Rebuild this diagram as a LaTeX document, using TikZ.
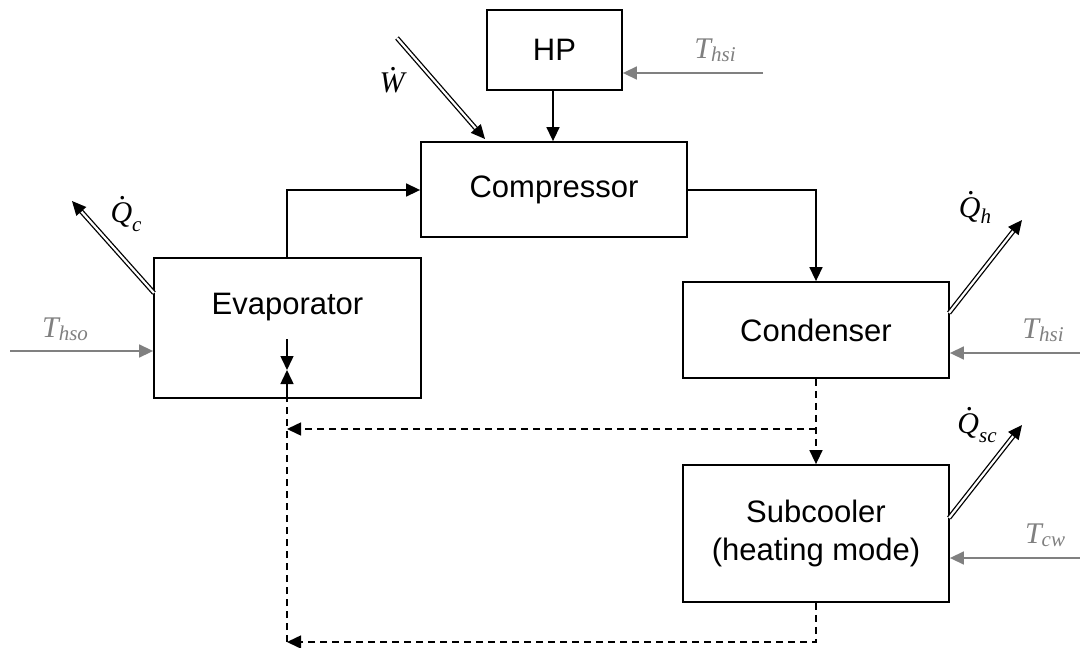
\documentclass[tikz,border=0pt]{standalone}
\usepackage{fontspec}
\setmainfont{Liberation Sans}
\newfontfamily\tms{Liberation Serif}
\usetikzlibrary{arrows.meta,calc}
\definecolor{tgray}{RGB}{128,128,128}
\newcommand\dt[2][0.76em]{\leavevmode\setbox0=\hbox{#2}\rlap{\hbox to \wd0{\hss\kern0.12em\raisebox{#1}{.}\hss}}\box0}
\newcommand\lbl[3][0.12em]{{\tms\itshape\fontsize{30}{30}\selectfont #2\raisebox{-#1}{\fontsize{21}{21}\selectfont #3}}}
\tikzset{
  blk/.style={draw, line width=1.8pt, rectangle, inner sep=0pt, font=\fontsize{31}{38}\selectfont, align=center},
  btxt/.style={inner sep=0pt, font=\fontsize{31}{38}\selectfont, align=center},
  flow/.style={line width=1.5pt, -{Triangle[length=14pt,width=13pt]}},
  dflow/.style={line width=1.5pt, dash pattern=on 7pt off 5pt, -{Triangle[length=14pt,width=13pt]}},
  dline/.style={line width=1.5pt, dash pattern=on 7pt off 5pt},
  tflow/.style={line width=1.5pt, tgray, -{Triangle[length=14pt,width=13pt]}},
  dbl/.style={double, double distance=2.2pt, line width=1.3pt},
  dtip/.style={line width=1.3pt, -{Triangle[length=14pt,width=13pt]}},
  lab/.style={anchor=base, inner sep=0pt},
  tlab/.style={anchor=base, inner sep=0pt, text=tgray},
}
\begin{document}
\begin{tikzpicture}[x=1pt,y=-1pt]
\useasboundingbox (0,0) rectangle (1080,648);
% boxes
\node[blk, minimum width=135pt, minimum height=80pt] (hp) at (554.5,50) {HP};
\node[blk, minimum width=266pt, minimum height=95pt] (comp) at (554,189.5) {Compressor};
\node[blk, minimum width=267pt, minimum height=140pt] (evap) at (287.5,328) {};
\node[btxt] (evt) at (287.5,307) {Evaporator};
\node[blk, minimum width=266pt, minimum height=96pt] (cond) at (816,330) {Condenser};
\node[blk, minimum width=266pt, minimum height=137pt] (sub) at (816,533.5) {Subcooler\\(heating mode)};
% coordinates
\coordinate (hpin) at (763,73);
\coordinate (hsoin) at (10,351);
\coordinate (hsiin) at (1080,353);
\coordinate (cwin) at (1080,558);
\coordinate (ws) at (397,38);
\coordinate (we) at (485,139);
\coordinate (qcs) at (154,293);
\coordinate (qce) at (72,201);
\coordinate (qhs) at (949,313);
\coordinate (qhe) at (1022,220);
\coordinate (qscs) at (949,518);
\coordinate (qsce) at (1022,425);
\coordinate (split) at (816,429);
\coordinate (mid) at (287,429);
\coordinate (bot) at (287,642);
\coordinate (botr) at (816,642);
\coordinate (meet) at (287,370);
\coordinate (evdn) at (287,339);
\coordinate (evb) at (287,398);
% solid flows
\draw[flow] (hp.south -| 553,0) -- (comp.north -| 553,0);
\draw[flow] (evap.north -| 287,0) |- (comp.west |- 0,190);
\draw[flow] (comp.east |- 0,190) -| (cond.north);
\draw[flow] (evdn) -- (meet);
% dashed flows
\draw[dflow] (cond.south) -- (sub.north);
\draw[dflow] (split) -- (mid);
\draw[dflow] (sub.south) -- (botr) -- (bot);
\draw[dline] (bot) -- (evb);
\draw[flow] (evb) -- (meet);
% temperature inputs
\draw[tflow] (hpin) -- (hp.east |- hpin);
\draw[tflow] (hsoin) -- (evap.west |- hsoin);
\draw[tflow] (hsiin) -- (cond.east |- hsiin);
\draw[tflow] (cwin) -- (sub.east |- cwin);
% double-line energy arrows
\draw[dbl] (ws) -- ($(we)!11pt!(ws)$);
\draw[dtip] ($(we)!14pt!(ws)$) -- (we);
\draw[dbl] (qcs) -- ($(qce)!11pt!(qcs)$);
\draw[dtip] ($(qce)!14pt!(qcs)$) -- (qce);
\draw[dbl] (qhs) -- ($(qhe)!11pt!(qhs)$);
\draw[dtip] ($(qhe)!14pt!(qhs)$) -- (qhe);
\draw[dbl] (qscs) -- ($(qsce)!11pt!(qscs)$);
\draw[dtip] ($(qsce)!14pt!(qscs)$) -- (qsce);
% labels
\node[lab] (lw) at (392,92) {\lbl{\dt[0.72em]{W}}{}};
\node[lab] (lqc) at (126,222) {\lbl[0.3em]{\dt{Q}}{c}};
\node[lab] (lqh) at (975,217) {\lbl[0.2em]{\dt{Q}}{h}};
\node[lab] (lqsc) at (977,433) {\lbl[0.3em]{\dt{Q}}{sc}};
\node[tlab] (lt1) at (715,58) {\lbl{T}{hsi}};
\node[tlab] (lt2) at (65,337) {\lbl{T}{hso}};
\node[tlab] (lt3) at (1043,338) {\lbl{T}{hsi}};
\node[tlab] (lt4) at (1045,543) {\lbl{T}{cw}};
\end{tikzpicture}
\end{document}
